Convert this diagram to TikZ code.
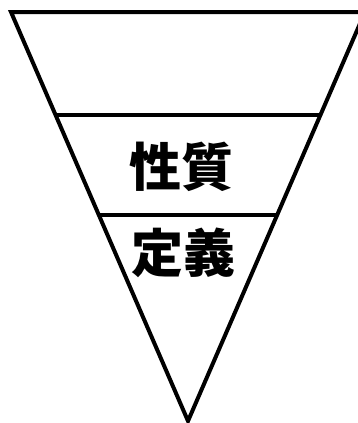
\documentclass[tikz,border=0pt]{standalone}
\usepackage{fontspec}
\usetikzlibrary{calc}
\newfontfamily\cjk{Noto Sans CJK JP}
\begin{document}
\begin{tikzpicture}[x=1pt,y=-1pt,
  edge/.style={line width=4pt,line join=miter,line cap=butt},
  band/.style={line width=3.5pt},
  lbl/.style={font=\cjk\bfseries\fontsize{52}{52}\selectfont,inner sep=0pt}]
\useasboundingbox (0,0) rectangle (358,423);
\begin{scope}
\clip (0,0) rectangle (358,423);
\coordinate (tl) at (11,12);
\coordinate (tr) at (365,12);
\coordinate (ap) at (188,421);
\coordinate (l1) at ($(tl)!0.2518!(ap)$);
\coordinate (r1) at ($(tr)!0.2518!(ap)$);
\coordinate (l2) at ($(tl)!0.4963!(ap)$);
\coordinate (r2) at ($(tr)!0.4963!(ap)$);
\draw[band] (l1) -- (r1);
\draw[band] (l2) -- (r2);
\draw[edge] (tr) -- (tl) -- (ap) -- cycle;
\end{scope}
\node[lbl] (seishitsu) at (181,167) {性質};
\node[lbl] (teigi) at (183,253) {定義};
\end{tikzpicture}
\end{document}
